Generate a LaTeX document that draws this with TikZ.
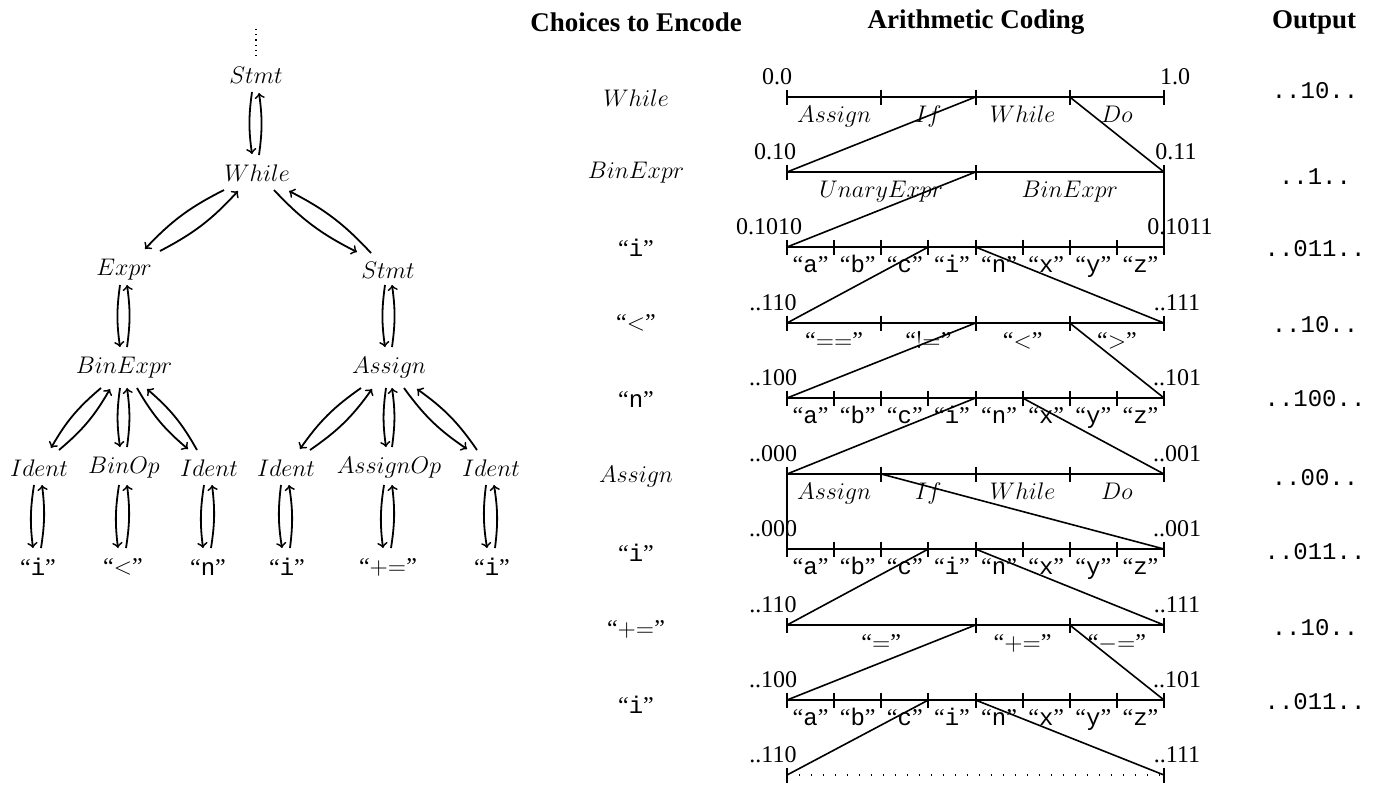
\documentclass[tikz,border=0pt]{standalone}
\usepackage{fontspec}
\setmainfont{Liberation Serif}
\setmonofont{Liberation Mono}
\usetikzlibrary{calc}
\begin{document}
\begin{tikzpicture}[x=0.5pt,y=-0.5pt,
  font=\fontsize{12}{14}\selectfont,
  tn/.style={inner sep=1pt},
  arr/.style={->, line width=0.9pt},
  bar/.style={line width=1pt},
  link/.style={line width=0.8pt},
  seglab/.style={anchor=base, inner sep=0pt},
  endlab/.style={anchor=base, inner sep=0pt},
  hdr/.style={font=\fontsize{13.5}{16}\selectfont\bfseries},
  outlab/.style={font=\fontsize{12}{14}\selectfont\ttfamily}]
\useasboundingbox (0,0) rectangle (1380,784);

% ---------------- tree ----------------
\node[tn] (stmt0) at (256,75) {$Stmt$};
\coordinate (top) at (256,29);
\draw[dotted, line width=0.6pt] (top) -- ($(stmt0)+(0,-18)$);
\node[tn] (while) at (257,173) {$While$};
\node[tn] (expr) at (124,270) {$Expr$};
\node[tn] (stmt1) at (388,270) {$Stmt$};
\node[tn] (binexpr) at (124,368) {$BinExpr$};
\node[tn] (assign) at (389,368) {$Assign$};
\node[tn] (id1) at (39,468) {$Ident$};
\node[tn] (binop) at (124,468) {$BinOp$};
\node[tn] (id2) at (209,468) {$Ident$};
\node[tn] (id3) at (286,468) {$Ident$};
\node[tn] (assignop) at (389,468) {$AssignOp$};
\node[tn] (id4) at (491,468) {$Ident$};
\node[tn] (l1) at (38,567) {“\texttt{i}”};
\node[tn] (l2) at (123,567) {“$<$”};
\node[tn] (l3) at (208,567) {“\texttt{n}”};
\node[tn] (l4) at (287,567) {“\texttt{i}”};
\node[tn] (l5) at (388,567) {“${+}{=}$”};
\node[tn] (l6) at (492,567) {“\texttt{i}”};

% vertical edges
\draw[arr] ($(stmt0)+(-4,17)$) to[bend right=8] ($(while)+(-5,-19)$);
\draw[arr] ($(while)+(2,-18)$) to[bend right=8] ($(stmt0)+(3,18)$);
\draw[arr] ($(expr)+(-4,15)$) to[bend right=8] ($(binexpr)+(-4,-21)$);
\draw[arr] ($(binexpr)+(3,-21)$) to[bend right=8] ($(expr)+(3,15)$);
\draw[arr] ($(stmt1)+(-3,15)$) to[bend right=8] ($(assign)+(-4,-21)$);
\draw[arr] ($(assign)+(3,-21)$) to[bend right=8] ($(stmt1)+(4,15)$);
\draw[arr] ($(binexpr)+(-4,20)$) to[bend right=8] ($(binop)+(-4,-21)$);
\draw[arr] ($(binop)+(3,-21)$) to[bend right=8] ($(binexpr)+(3,20)$);
\draw[arr] ($(assign)+(-3,20)$) to[bend right=8] ($(assignop)+(-3,-21)$);
\draw[arr] ($(assignop)+(3,-21)$) to[bend right=8] ($(assign)+(3,20)$);
% diagonal edges
\draw[arr] ($(while)+(-33,17)$) to[bend right=10] ($(expr)+(21,-21)$);
\draw[arr] ($(expr)+(36,-19)$) to[bend right=10] ($(while)+(-19,18)$);
\draw[arr] ($(while)+(17,17)$) to[bend right=10] ($(stmt1)+(-31,-18)$);
\draw[arr] ($(stmt1)+(-17,-17)$) to[bend right=10] ($(while)+(32,18)$);
\draw[arr] ($(binexpr)+(-23,20)$) to[bend right=10] ($(id1)+(12,-20)$);
\draw[arr] ($(id1)+(20,-18)$) to[bend right=10] ($(binexpr)+(-14,21)$);
\draw[arr] ($(binexpr)+(13,20)$) to[bend right=10] ($(id2)+(-21,-19)$);
\draw[arr] ($(id2)+(-12,-18)$) to[bend right=10] ($(binexpr)+(23,21)$);
\draw[arr] ($(assign)+(-28,20)$) to[bend right=10] ($(id3)+(14,-19)$);
\draw[arr] ($(id3)+(24,-18)$) to[bend right=10] ($(assign)+(-17,21)$);
\draw[arr] ($(assign)+(15,20)$) to[bend right=10] ($(id4)+(-24,-19)$);
\draw[arr] ($(id4)+(-14,-18)$) to[bend right=10] ($(assign)+(28,21)$);
% leaves
\foreach \p/\c in {id1/l1,binop/l2,id2/l3,id3/l4,assignop/l5,id4/l6}{
  \draw[arr] ($(\p)+(-5,17)$) to[bend right=8] ($(\c)+(-5,-19)$);
  \draw[arr] ($(\c)+(3,-19)$) to[bend right=8] ($(\p)+(3,17)$);
}

% ---------------- headers ----------------
\node[hdr] (h1) at (636,22) {Choices to Encode};
\node[hdr] (h2) at (976,22) {Arithmetic Coding};
\node[hdr] (h3) at (1314,22) {Output};

% ---------------- rows ----------------
\foreach \r/\y in {0/97,1/172,2/247,3/323,4/398,5/474,6/549,7/625,8/700,9/775}{
  \foreach \i in {0,...,8}{
    \coordinate (r\r t\i) at ({787+\i*47.125},\y);
  }
}
% main lines
\foreach \r in {0,...,8}{ \draw[bar] (r\r t0) -- (r\r t8); }
\draw[dotted, line width=0.7pt, dash pattern=on 0.7pt off 5.3pt] (r9t0) -- (r9t8);
% ticks
\foreach \r/\list in {0/{0,2,4,6,8},1/{0,4,8},2/{0,...,8},3/{0,2,4,6,8},4/{0,...,8},5/{0,2,4,6,8},6/{0,...,8},7/{0,4,6,8},8/{0,...,8},9/{0,8}}{
  \foreach \i in \list {
    \draw[bar] ($(r\r t\i)+(0,-7.5)$) -- ($(r\r t\i)+(0,7.5)$);
  }
}
% connectors
\foreach \a/\b in {r0t4/r1t0, r0t6/r1t8, r1t4/r2t0, r1t8/r2t8, r2t3/r3t0, r2t4/r3t8,
  r3t4/r4t0, r3t6/r4t8, r4t4/r5t0, r4t5/r5t8, r5t0/r6t0, r5t2/r6t8,
  r6t3/r7t0, r6t4/r7t8, r7t4/r8t0, r7t6/r8t8, r8t3/r9t0, r8t4/r9t8}{
  \draw[link] (\a) -- (\b);
}
% end labels
\foreach \r/\l/\lx/\rl/\rx in {0/0.0/777/1.0/1175, 1/0.10/775/0.11/1176, 2/0.1010/769/0.1011/1180,
  3/..110/773/..111/1177, 4/..100/773/..101/1177, 5/..000/773/..001/1177,
  6/..000/773/..001/1177, 7/..110/773/..111/1177, 8/..100/773/..101/1177, 9/..110/773/..111/1177}{
  \node[endlab] (ll\r) at ($(r\r t0)+(\lx-787,-13)$) {\l};
  \node[endlab] (rl\r) at ($(r\r t8)+(\rx-1164,-13)$) {\rl};
}
% segment labels: statements
\foreach \r in {0,5}{
  \foreach \i/\t in {1/Assign,3/If,5/While,7/Do}{
    \node[seglab] at ($(r\r t\i)+(0,25)$) {$\t$};
  }
}
\node[seglab] at ($(r1t2)+(0,25)$) {$UnaryExpr$};
\node[seglab] at ($(r1t6)+(0,25)$) {$BinExpr$};
% letters
\foreach \r in {2,4,6,8}{
  \foreach \i/\t in {0/a,1/b,2/c,3/i,4/n,5/x,6/y,7/z}{
    \node[seglab] at ($(r\r t\i)!0.5!(r\r t\the\numexpr\i+1\relax)+(0,25)$) {“\texttt{\t}”};
  }
}
% comparison operators
\node[seglab] at ($(r3t1)+(0,25)$) {“$==$”};
\node[seglab] at ($(r3t3)+(0,25)$) {“$!{=}$”};
\node[seglab] at ($(r3t5)+(0,25)$) {“$<$”};
\node[seglab] at ($(r3t7)+(0,25)$) {“$>$”};
% assignment operators
\node[seglab] at ($(r7t2)+(0,25)$) {“$=$”};
\node[seglab] at ($(r7t5)+(0,25)$) {“${+}{=}$”};
\node[seglab] at ($(r7t7)+(0,25)$) {“${-}{=}$”};

% ---------------- choices ----------------
\node (c0) at (636,98) {$While$};
\node (c1) at (636,173) {$BinExpr$};
\node (c2) at (636,248) {“\texttt{i}”};
\node (c3) at (636,323) {“$<$”};
\node (c4) at (636,399) {“\texttt{n}”};
\node (c5) at (636,477) {$Assign$};
\node (c6) at (636,553) {“\texttt{i}”};
\node (c7) at (636,629) {“${+}{=}$”};
\node (c8) at (636,705) {“\texttt{i}”};

% ---------------- output ----------------
\node[outlab] (o0) at (1315,91) {..10..};
\node[outlab] (o1) at (1315,177) {..1..};
\node[outlab] (o2) at (1315,249) {..011..};
\node[outlab] (o3) at (1315,325) {..10..};
\node[outlab] (o4) at (1315,399) {..100..};
\node[outlab] (o5) at (1315,478) {..00..};
\node[outlab] (o6) at (1315,552) {..011..};
\node[outlab] (o7) at (1315,628) {..10..};
\node[outlab] (o8) at (1315,702) {..011..};
\end{tikzpicture}
\end{document}
